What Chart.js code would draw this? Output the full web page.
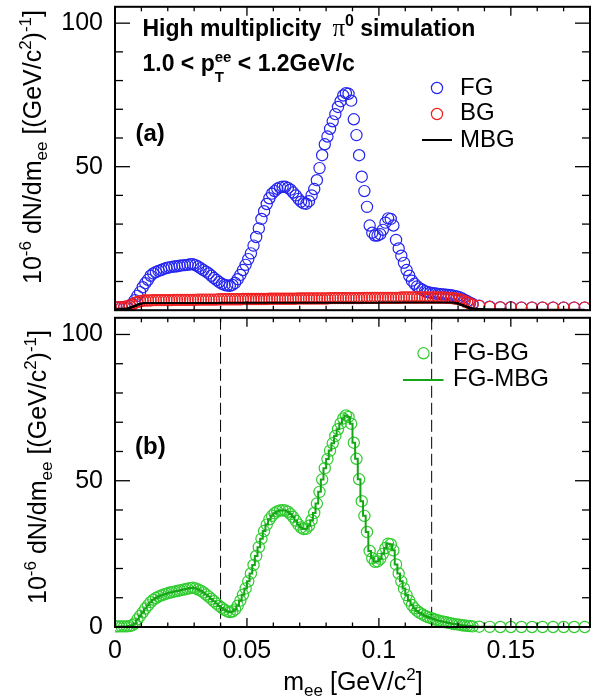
<!DOCTYPE html>
<html>
<head>
<meta charset="utf-8">
<script src="https://cdn.jsdelivr.net/npm/chart.js@4.4.1/dist/chart.umd.min.js"></script>
<style>
  html, body { margin: 0; padding: 0; background: #fff; }
  #wrap { position: relative; width: 603px; height: 699px; }
  canvas { position: absolute; left: 0; }
  #top { top: 0; }
  #bot { top: 311px; }
</style>
</head>
<body>
<div id="wrap">
  <canvas id="top" width="603" height="317"></canvas>
  <canvas id="bot" width="603" height="388"></canvas>
</div>
<script>
// bin centres in GeV/c^2 (1 MeV bins, wider bins in the tail)
const mee = [
  0.0005,0.0015,0.0025,0.0035,0.0045,0.0055,0.0065,0.0075,0.0085,0.0095,
  0.0105,0.0115,0.0125,0.0135,0.0145,0.0155,0.0165,0.0175,0.0185,0.0195,
  0.0205,0.0215,0.0225,0.0235,0.0245,0.0255,0.0265,0.0275,0.0285,0.0295,
  0.0305,0.0315,0.0325,0.0335,0.0345,0.0355,0.0365,0.0375,0.0385,0.0395,
  0.0405,0.0415,0.0425,0.0435,0.0445,0.0455,0.0465,0.0475,0.0485,0.0495,
  0.0505,0.0515,0.0525,0.0535,0.0545,0.0555,0.0565,0.0575,0.0585,0.0595,
  0.0605,0.0615,0.0625,0.0635,0.0645,0.0655,0.0665,0.0675,0.0685,0.0695,
  0.0705,0.0715,0.0725,0.0735,0.0745,0.0755,0.0765,0.0775,0.0785,0.0795,
  0.0805,0.0815,0.0825,0.0835,0.0845,0.0855,0.0865,0.0875,0.0885,0.0895,
  0.0905,0.0915,0.0925,0.0935,0.0945,0.0955,0.0965,0.0975,0.0985,0.0995,
  0.1005,0.1015,0.1025,0.1035,0.1045,0.1055,0.1065,0.1075,0.1085,0.1095,
  0.1105,0.1115,0.1125,0.1135,0.1145,0.1155,0.1165,0.1175,0.1185,0.1195,
  0.1205,0.1215,0.1225,0.1235,0.1245,0.1255,0.1265,0.1275,0.1285,0.1295,
  0.1305,0.1315,0.1325,0.1335,0.1345,0.1355,
  0.138,0.142,0.146,0.150,0.154,0.158,0.162,0.166,0.170,0.174,0.178
];

// panel (a)
const fg = [
  1.0,1.0,1.0,1.1,1.2,1.5,2.3,3.5,5.0,6.3,
  8.0,9.4,10.6,12.0,12.8,13.3,13.7,14.0,14.4,14.7,
  14.9,15.1,15.2,15.3,15.5,15.6,15.7,15.8,16.0,16.0,
  15.7,15.2,14.6,14.0,13.4,12.8,12.0,11.2,10.5,9.8,
  9.2,8.8,8.6,8.5,8.8,9.5,10.8,12.3,14.0,15.8,
  17.8,19.8,22.5,25.5,28.5,31.8,34.5,37.0,39.0,40.6,
  41.5,42.3,42.8,43.0,43.0,42.6,42.0,41.0,40.0,38.8,
  37.8,37.2,37.1,38.0,40.0,42.2,45.3,49.5,54.0,57.8,
  60.5,63.2,65.8,68.3,70.8,72.8,74.8,75.6,75.4,73.0,
  66.5,61.0,54.0,46.5,41.5,36.0,29.5,27.0,26.0,26.0,
  26.5,28.0,30.5,32.0,31.8,29.5,24.5,21.5,19.0,16.5,
  14.0,12.0,10.3,9.2,8.3,7.6,7.1,6.6,6.3,6.1,
  5.9,5.8,5.7,5.6,5.5,5.4,5.3,5.2,5.0,4.8,
  4.5,4.1,3.6,3.1,2.6,2.2,
  1.6,1.2,1.0,1.0,0.9,0.9,0.9,0.9,0.9,0.9,0.9
];
const bg = [
  1.0,1.0,1.0,1.1,1.3,1.6,2.0,2.5,2.9,3.1,
  3.3,3.4,3.4,3.4,3.5,3.5,3.5,3.5,3.5,3.5,
  3.5,3.5,3.6,3.6,3.6,3.6,3.6,3.6,3.6,3.6,
  3.6,3.7,3.7,3.7,3.7,3.7,3.7,3.7,3.7,3.8,
  3.8,3.8,3.8,3.8,3.8,3.8,3.8,3.8,3.9,3.9,
  3.9,3.9,3.9,3.9,3.9,3.9,3.9,3.9,4.0,4.0,
  4.0,4.0,4.0,4.0,4.0,4.0,4.0,4.0,4.0,4.1,
  4.1,4.1,4.1,4.1,4.1,4.1,4.1,4.1,4.1,4.1,
  4.1,4.2,4.2,4.2,4.2,4.2,4.2,4.2,4.2,4.2,
  4.2,4.2,4.2,4.2,4.3,4.3,4.3,4.3,4.3,4.3,
  4.3,4.3,4.3,4.3,4.3,4.3,4.3,4.3,4.4,4.4,
  4.4,4.4,4.4,4.4,4.4,4.4,4.4,4.4,4.4,4.4,
  4.4,4.4,4.4,4.4,4.4,4.3,4.3,4.2,4.1,4.0,
  3.8,3.5,3.1,2.7,2.3,1.9,
  1.5,1.1,1.0,1.0,0.9,0.9,0.9,0.9,0.9,0.9,0.9
];
const mbg = [
  0.5,0.5,0.5,0.5,0.6,0.8,1.1,1.5,1.9,2.2,
  2.4,2.5,2.5,2.5,2.5,2.5,2.5,2.5,2.5,2.5,
  2.5,2.5,2.5,2.5,2.5,2.5,2.5,2.5,2.5,2.5,
  2.5,2.5,2.5,2.5,2.5,2.5,2.5,2.5,2.5,2.5,
  2.6,2.6,2.6,2.6,2.6,2.6,2.6,2.6,2.6,2.6,
  2.6,2.6,2.6,2.6,2.6,2.6,2.6,2.6,2.6,2.6,
  2.6,2.6,2.6,2.6,2.6,2.6,2.6,2.6,2.6,2.6,
  2.6,2.6,2.6,2.6,2.6,2.6,2.6,2.6,2.6,2.6,
  2.6,2.6,2.6,2.6,2.6,2.6,2.6,2.6,2.6,2.6,
  2.6,2.6,2.6,2.6,2.6,2.6,2.6,2.6,2.6,2.6,
  2.7,2.7,2.7,2.7,2.7,2.7,2.7,2.7,2.7,2.7,
  2.7,2.7,2.7,2.7,2.7,2.7,2.7,2.7,2.7,2.7,
  2.7,2.7,2.7,2.7,2.7,2.7,2.7,2.7,2.6,2.4,
  2.1,1.8,1.4,1.1,0.8,0.6,
  0.4,0.3,0.3,0.2,0.2,0.2,0.2,0.2,0.2,0.2,0.2
];

// panel (b): subtracted yield, circles (FG-BG) and line (FG-MBG) lie on top of each other
const fgSub = [
  0.2,0.2,0.2,0.2,0.2,0.3,0.6,1.2,2.6,3.8,
  5.0,6.3,7.4,8.5,9.3,9.9,10.4,10.8,11.1,11.4,
  11.7,11.9,12.1,12.3,12.5,12.7,12.9,13.1,13.3,13.4,
  13.2,12.8,12.4,11.8,11.1,10.4,9.6,8.8,8.0,7.2,
  6.5,5.9,5.4,5.1,5.3,6.0,7.3,9.0,11.0,13.2,
  15.6,18.3,21.2,24.3,27.3,30.2,32.8,35.0,36.8,38.0,
  38.9,39.5,39.8,39.9,39.8,39.4,38.6,37.6,36.3,35.0,
  34.0,33.5,33.6,34.6,36.5,39.0,42.2,46.2,50.4,54.3,
  57.4,60.3,62.8,65.3,67.6,69.6,71.3,72.3,71.8,69.5,
  63.0,57.5,50.5,43.0,38.0,32.5,26.0,23.5,22.3,22.4,
  23.3,25.0,27.0,28.5,28.3,26.2,21.4,18.3,15.6,13.2,
  10.9,9.0,7.5,6.4,5.5,4.8,4.3,3.8,3.4,3.1,
  2.8,2.5,2.2,2.0,1.8,1.6,1.4,1.2,1.0,0.9,
  0.8,0.6,0.5,0.4,0.3,0.2,
  0.1,0.05,0,0,0,0,0,0,0,0,0
];

const cutLines = [0.04, 0.12];
const xTicks = [0, 0.05, 0.1, 0.15];
const yTicksTop = [50, 100];
const yTicksBot = [0, 50, 100];

const FAM = "'Liberation Sans', Arial, Helvetica, sans-serif";
const OFF = 311; // top of the lower canvas on the page
const R = 5.6;   // marker radius

const pts = ys => mee.map((x, i) => ({ x: x, y: ys[i] }));

function circles(label, ys, color, clip) {
  return {
    label, data: pts(ys), showLine: false, pointStyle: "circle", pointRadius: R,
    pointBorderWidth: 1.2, pointBorderColor: color, pointBackgroundColor: "rgba(0,0,0,0)",
    borderColor: color, clip,
  };
}
function histLine(label, ys, color, clip) {
  return {
    label, data: pts(ys), showLine: true, stepped: "middle", pointRadius: 0,
    borderColor: color, borderWidth: 2, fill: false, clip,
  };
}

// rich text: parts = [{t, f, dy, gap, stack}]
function rich(ctx, x, y, parts, align) {
  let w = 0, start = 0;
  const pos = [];
  parts.forEach(p => {
    ctx.font = p.f;
    const pw = ctx.measureText(p.t).width;
    let px;
    if (p.stack) { px = start; w = Math.max(w, start + pw); }
    else { px = w + (p.gap || 0); start = px; w = px + pw; }
    pos.push(px);
  });
  let x0 = x;
  if (align === "center") x0 = x - w / 2;
  if (align === "right") x0 = x - w;
  ctx.textBaseline = "alphabetic";
  ctx.textAlign = "left";
  parts.forEach((p, i) => {
    ctx.font = p.f;
    ctx.fillText(p.t, x0 + pos[i], y + (p.dy || 0));
  });
}

const M = "25px " + FAM, S = "17px " + FAM;
const yTitle = [
  { t: "10", f: M }, { t: "-6", f: S, dy: -10 }, { t: " dN/dm", f: M }, { t: "ee", f: S, dy: 5.5 },
  { t: " [(GeV/c", f: M }, { t: "2", f: S, dy: -10 }, { t: ")", f: M }, { t: "-1", f: S, dy: -10 }, { t: "]", f: M },
];
const xTitle = [
  { t: "m", f: M }, { t: "ee", f: S, dy: 5.5 }, { t: " [GeV/c", f: M }, { t: "2", f: S, dy: -10 }, { t: "]", f: M },
];

function line(ctx, x1, y1, x2, y2) {
  ctx.beginPath(); ctx.moveTo(x1, y1); ctx.lineTo(x2, y2); ctx.stroke();
}
function ring(ctx, x, y, color) {
  ctx.strokeStyle = color;
  ctx.lineWidth = 1.2;
  ctx.beginPath(); ctx.arc(x, y, R, 0, 2 * Math.PI); ctx.stroke();
}

// ROOT style frame with inward ticks on all four sides
const frame = {
  id: "frame",
  afterDatasetsDraw(chart) {
    const { ctx, chartArea: a, scales: { x, y } } = chart;
    ctx.save();
    ctx.strokeStyle = "#000";
    ctx.lineWidth = 1.3;
    for (let i = 0; i <= 18; i++) {
      const px = x.getPixelForValue(i / 100);
      const len = i % 5 === 0 ? 9 : 4.5;
      line(ctx, px, a.bottom, px, a.bottom - len);
      line(ctx, px, a.top, px, a.top + len);
    }
    for (let v = 0; v <= 100; v += 10) {
      const py = y.getPixelForValue(v);
      const len = v % 50 === 0 ? 15 : 8;
      line(ctx, a.left, py, a.left + len, py);
      line(ctx, a.right, py, a.right - len, py);
    }
    ctx.lineWidth = 2;
    ctx.strokeRect(a.left, a.top, a.right - a.left, a.bottom - a.top);
    ctx.restore();
  },
};

function yScale(ticks) {
  return {
    type: "linear", min: 0, max: 105.7,
    afterBuildTicks: s => { s.ticks = ticks.map(v => ({ value: v })); },
    afterFit: s => { s.width = 115; s.paddingTop = 0; s.paddingBottom = 0; },
    grid: { display: false, drawTicks: false }, border: { display: false },
    ticks: { font: { family: FAM, size: 25 }, color: "#000", padding: 12, callback: v => String(v) },
  };
}

const common = {
  responsive: false, animation: false, devicePixelRatio: 1, events: [], parsing: false,
  plugins: { legend: { display: false }, tooltip: { enabled: false } },
};

const annotA = {
  id: "annotA",
  afterDraw(chart) {
    const ctx = chart.ctx;
    const ds = chart.data.datasets;
    ctx.save();
    ctx.fillStyle = "#000";
    const B = "bold 23px " + FAM, BS = "bold 15px " + FAM;
    rich(ctx, 142.5, 36, [
      { t: "High multiplicity", f: B },
      { t: "\u03c0", f: "25px 'Liberation Serif', 'Times New Roman', serif", gap: 11 },
      { t: "0", f: "bold 16px " + FAM, dy: -10 },
      { t: " simulation", f: B },
    ]);
    rich(ctx, 142.5, 71, [
      { t: "1.0 < ", f: B }, { t: "p", f: B },
      { t: "ee", f: BS, dy: -9.5 }, { t: "T", f: BS, dy: 11, stack: true },
      { t: " < 1.2GeV/c", f: B },
    ]);
    ctx.font = "bold 24px " + FAM;
    ctx.fillText("(a)", 135.5, 141);
    // legend
    ctx.font = "24px " + FAM;
    ctx.fillText("FG", 460, 94.5);
    ctx.fillText("BG", 460, 120);
    ctx.fillText("MBG", 460, 146.5);
    ring(ctx, 437, 88, ds[2].pointBorderColor);
    ring(ctx, 437, 114, ds[1].pointBorderColor);
    ctx.strokeStyle = ds[0].borderColor;
    ctx.lineWidth = 2;
    line(ctx, 422, 140, 452, 140);
    // y title
    ctx.translate(41, 10);
    ctx.rotate(-Math.PI / 2);
    rich(ctx, 0, 0, yTitle, "right");
    ctx.restore();
  },
};

const annotB = {
  id: "annotB",
  beforeDatasetsDraw(chart) {
    const { ctx, chartArea: a, scales: { x } } = chart;
    ctx.save();
    ctx.strokeStyle = "#000";
    ctx.lineWidth = 1;
    ctx.setLineDash([12, 5]);
    cutLines.forEach(v => {
      const px = x.getPixelForValue(v);
      line(ctx, px, a.top, px, a.bottom);
    });
    ctx.restore();
  },
  afterDraw(chart) {
    const ctx = chart.ctx;
    const ds = chart.data.datasets;
    ctx.save();
    ctx.fillStyle = "#000";
    ctx.font = "bold 24px " + FAM;
    ctx.fillText("(b)", 135, 453.5 - OFF);
    ctx.font = "24px " + FAM;
    ctx.fillText("FG-BG", 453, 359.5 - OFF);
    ctx.fillText("FG-MBG", 453, 385.5 - OFF);
    ring(ctx, 423.5, 353.3 - OFF, ds[1].pointBorderColor);
    ctx.strokeStyle = ds[0].borderColor;
    ctx.lineWidth = 2;
    line(ctx, 403, 380 - OFF, 443.5, 380 - OFF);
    rich(ctx, 353, 690 - OFF, xTitle, "center");
    ctx.translate(46, 330 - OFF);
    ctx.rotate(-Math.PI / 2);
    rich(ctx, 0, 0, yTitle, "right");
    ctx.restore();
  },
};

const clipTop = { left: 0, top: false, right: 0, bottom: 0 };
const clipBot = { left: 0, top: false, right: 0, bottom: false };

new Chart(document.getElementById("top"), {
  type: "line",
  data: {
    datasets: [
      histLine("MBG", mbg, "#000000", clipTop),
      circles("BG", bg, "#f01e1e", clipTop),
      circles("FG", fg, "#2424f0", clipTop),
    ],
  },
  options: {
    ...common,
    layout: { padding: { left: 0, top: 5, right: 13, bottom: 0 } },
    scales: {
      x: { type: "linear", min: 0, max: 0.18, display: false },
      y: yScale(yTicksTop),
    },
  },
  plugins: [frame, annotA],
});

new Chart(document.getElementById("bot"), {
  type: "line",
  data: {
    datasets: [
      histLine("FG-MBG", fgSub, "#16a516", clipBot),
      circles("FG-BG", fgSub, "#30cc30", clipBot),
    ],
  },
  options: {
    ...common,
    layout: { padding: { left: 0, top: 6, right: 13, bottom: 0 } },
    scales: {
      x: {
        type: "linear", min: 0, max: 0.18,
        afterBuildTicks: s => { s.ticks = xTicks.map(v => ({ value: v })); },
        afterFit: s => { s.height = 72; s.paddingLeft = 0; s.paddingRight = 0; },
        grid: { display: false, drawTicks: false }, border: { display: false },
        ticks: { font: { family: FAM, size: 25 }, color: "#000", padding: 9, maxRotation: 0, autoSkip: false, callback: v => String(v) },
      },
      y: yScale(yTicksBot),
    },
  },
  plugins: [frame, annotB],
});
</script>
</body>
</html>
